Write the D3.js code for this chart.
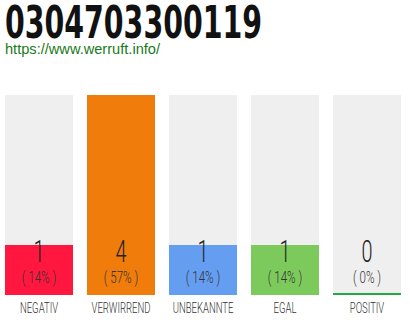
<!DOCTYPE html>
<html><head><meta charset="utf-8">
<script src="https://cdn.jsdelivr.net/npm/d3@7"></script>
<style>html,body{margin:0;padding:0;background:#fff;}svg{display:block;}</style>
</head><body>
<script>
const title = "0304703300119";
const url = "https://www.werruft.info/";
const categories = ["NEGATIV", "VERWIRREND", "UNBEKANNTE", "EGAL", "POSITIV"];
const values = [1, 4, 1, 1, 0];
const percents = ["( 14% )", "( 57% )", "( 14% )", "( 14% )", "( 0% )"];
const colors = ["#ff173f", "#f07c0c", "#659ef0", "#7dca5c", "#22aa44"];

const W = 410, H = 320;
const svg = d3.select("body").append("svg").attr("width", W).attr("height", H);

svg.append("text").attr("x", 5).attr("y", 38)
  .attr("font-family", "'Liberation Sans Narrow','DejaVu Sans Condensed',sans-serif")
  .attr("font-weight", "bold").attr("font-size", 45).attr("fill", "#111")
  .attr("textLength", 257).attr("lengthAdjust", "spacingAndGlyphs")
  .text(title);

svg.append("text").attr("x", 5).attr("y", 54)
  .attr("font-family", "'Liberation Sans',Arial,sans-serif")
  .attr("font-size", 15).attr("fill", "#1a7a1a")
  .attr("textLength", 155).attr("lengthAdjust", "spacingAndGlyphs")
  .text(url);

const x = d3.scaleBand().domain(categories).range([5, 401]).paddingInner(14/82).paddingOuter(0);
const y = d3.scaleLinear().domain([0, d3.max(values)]).range([295, 95]);

const g = svg.selectAll("g.bar").data(categories).join("g").attr("class", "bar");
g.append("rect").attr("x", d => x(d)).attr("width", x.bandwidth())
  .attr("y", y(4)).attr("height", y(0) - y(4)).attr("fill", "#efefef");
g.append("rect").attr("x", d => x(d)).attr("width", x.bandwidth())
  .attr("y", (d, i) => values[i] > 0 ? y(values[i]) : y(0) - 2)
  .attr("height", (d, i) => values[i] > 0 ? y(0) - y(values[i]) : 2)
  .attr("fill", (d, i) => colors[i]);

const cond = "'Roboto','Liberation Sans',sans-serif";
function ctext(sel, yy, size, weight, sx, txt, fill) {
  sel.append("g")
    .attr("transform", d => `translate(${x(d) + x.bandwidth() / 2},${yy}) scale(${sx},1)`)
    .append("text").attr("text-anchor", "middle")
    .attr("font-family", cond).attr("font-weight", weight)
    .attr("font-size", size).attr("fill", fill).text(txt);
}
ctext(g, 262, 32, 300, 0.62, (d, i) => values[i], "#222");
ctext(g, 283, 16, 300, 0.72, (d, i) => percents[i], "#333");
ctext(g, 313, 14, 300, 0.68, d => d, "#333");
</script>
</body></html>
